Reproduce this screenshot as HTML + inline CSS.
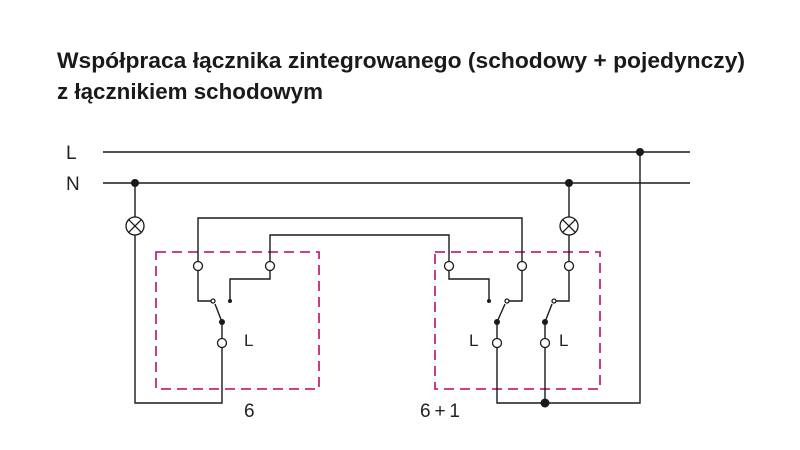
<!DOCTYPE html>
<html><head><meta charset="utf-8"><style>
html,body{margin:0;padding:0;background:#fff;width:800px;height:450px;overflow:hidden}
</style></head><body>
<svg width="800" height="450" viewBox="0 0 800 450" xmlns="http://www.w3.org/2000/svg" font-family="Liberation Sans, sans-serif">
<text x="57" y="68" font-size="22" font-weight="bold" fill="#1a1a1a" textLength="688" lengthAdjust="spacingAndGlyphs">Współpraca łącznika zintegrowanego (schodowy + pojedynczy)</text>
<text x="57" y="99" font-size="22" font-weight="bold" fill="#1a1a1a" textLength="266" lengthAdjust="spacingAndGlyphs">z łącznikiem schodowym</text>
<g font-size="19" fill="#222">
<text x="66" y="159">L</text>
<text x="66" y="190">N</text>
<text x="244" y="346" font-size="17">L</text>
<text x="469" y="346" font-size="17">L</text>
<text x="559" y="346" font-size="17">L</text>
<text x="244" y="417" font-size="19">6</text>
<text x="420" y="417" font-size="19" textLength="40" lengthAdjust="spacing">6+1</text>
</g>
<g fill="none" stroke="#c02a78" stroke-width="1.8" stroke-dasharray="10,6">
<rect x="156" y="252" width="163" height="137"/>
<rect x="435" y="252" width="165" height="137"/>
</g>
<g fill="none" stroke="#1a1a1a" stroke-width="1.4">
<line x1="103" y1="152" x2="690" y2="152"/>
<line x1="103" y1="183" x2="690" y2="183"/>
<polyline points="135,183 135,403 222,403 222,348"/>
<polyline points="198,261 198,218 522,218 522,261"/>
<polyline points="270,261 270,235 449,235 449,261"/>
<polyline points="198,271 198,301 211,301"/>
<polyline points="270,271 270,279 230,279 230,301"/>
<line x1="222" y1="322" x2="215" y2="304"/>
<line x1="222" y1="322" x2="222" y2="338"/>
<polyline points="449,271 449,279 489,279 489,301"/>
<polyline points="509,301 522,301 522,271"/>
<line x1="497" y1="322" x2="505" y2="304"/>
<line x1="497" y1="322" x2="497" y2="338"/>
<polyline points="497,348 497,403 640,403 640,152"/>
<polyline points="569,183 569,261"/>
<polyline points="569,271 569,301 556,301"/>
<line x1="545" y1="322" x2="552" y2="304"/>
<line x1="545" y1="322" x2="545" y2="338"/>
<line x1="545" y1="348" x2="545" y2="403"/>
</g>
<g fill="#fff" stroke="#1a1a1a" stroke-width="1.3">
<circle cx="135" cy="226" r="9"/>
<circle cx="569" cy="226" r="9"/>
<circle cx="198" cy="266" r="4.5"/><circle cx="270" cy="266" r="4.5"/><circle cx="222" cy="343" r="4.5"/>
<circle cx="449" cy="266" r="4.5"/><circle cx="522" cy="266" r="4.5"/><circle cx="569" cy="266" r="4.5"/>
<circle cx="497" cy="343" r="4.5"/><circle cx="545" cy="343" r="4.5"/>
<circle cx="213" cy="301" r="2"/><circle cx="507" cy="301" r="2"/><circle cx="554" cy="301" r="2"/>
</g>
<g stroke="#1a1a1a" stroke-width="1.3">
<line x1="128.6" y1="219.6" x2="141.4" y2="232.4"/><line x1="141.4" y1="219.6" x2="128.6" y2="232.4"/>
<line x1="562.6" y1="219.6" x2="575.4" y2="232.4"/><line x1="575.4" y1="219.6" x2="562.6" y2="232.4"/>
</g>
<g fill="#1a1a1a">
<circle cx="135" cy="183" r="4"/><circle cx="569" cy="183" r="4"/><circle cx="640" cy="152" r="4"/>
<circle cx="545" cy="403" r="4.5"/>
<circle cx="222" cy="322" r="3"/><circle cx="497" cy="322" r="3"/><circle cx="545" cy="322" r="3"/>
<circle cx="230" cy="301" r="2"/><circle cx="489" cy="301" r="2"/>
</g>
</svg>
</body></html>
